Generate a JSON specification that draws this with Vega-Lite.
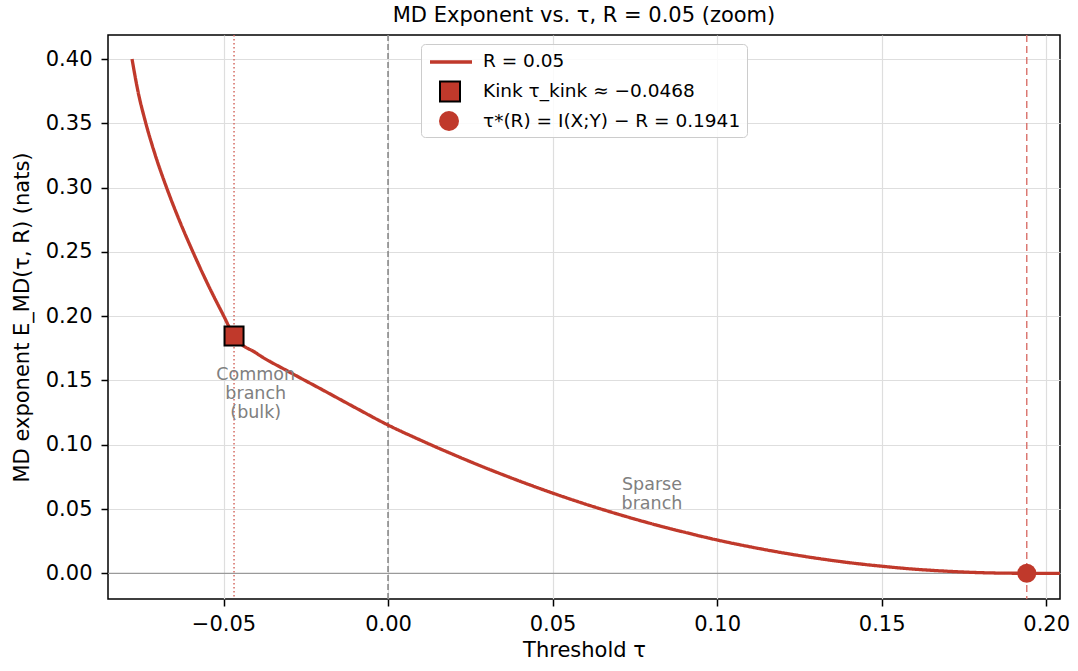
{
  "$schema": "https://vega.github.io/schema/vega-lite/v6.json",
  "width": 952,
  "height": 564,
  "autosize": {"type": "none"},
  "padding": {"left": 108, "top": 35, "right": 18, "bottom": 72},
  "background": "white",
  "title": {"text": "MD Exponent vs. τ, R = 0.05 (zoom)", "font": "DejaVu Sans", "fontSize": 21, "fontWeight": "normal", "color": "black", "offset": 8},
  "config": {
    "view": {"stroke": "black", "strokeWidth": 1.5},
    "axis": {
      "domain": false, "tickColor": "black", "tickWidth": 1.5, "tickSize": 7,
      "labelFont": "DejaVu Sans", "labelFontSize": 21, "labelColor": "black",
      "titleFont": "DejaVu Sans", "titleFontSize": 21, "titleFontWeight": "normal", "titleColor": "black",
      "gridColor": "#dedede", "gridWidth": 1.2
    },
    "legend": {
      "orient": "none", "legendX": 313, "title": null, "padding": 6,
      "labelFont": "DejaVu Sans", "labelFontSize": 18.5, "labelColor": "black", "labelLimit": 500,
      "symbolSize": 400, "symbolOffset": 12, "labelOffset": 22, "rowPadding": 9
    }
  },
  "datasets": {
    "curve": [
      {"tau": -0.0778, "E": 0.400},
      {"tau": -0.0760, "E": 0.375},
      {"tau": -0.0736, "E": 0.350},
      {"tau": -0.0707, "E": 0.325},
      {"tau": -0.0673, "E": 0.300},
      {"tau": -0.0635, "E": 0.275},
      {"tau": -0.0593, "E": 0.250},
      {"tau": -0.0548, "E": 0.225},
      {"tau": -0.0499, "E": 0.200},
      {"tau": -0.0468, "E": 0.1845},
      {"tau": -0.04, "E": 0.1712},
      {"tau": -0.03, "E": 0.1566},
      {"tau": -0.02, "E": 0.1428},
      {"tau": -0.01, "E": 0.1289},
      {"tau": 0.0, "E": 0.1153},
      {"tau": 0.01, "E": 0.1034},
      {"tau": 0.02, "E": 0.0922},
      {"tau": 0.03, "E": 0.0816},
      {"tau": 0.04, "E": 0.0717},
      {"tau": 0.05, "E": 0.0624},
      {"tau": 0.06, "E": 0.0538},
      {"tau": 0.07, "E": 0.0459},
      {"tau": 0.08, "E": 0.0386},
      {"tau": 0.09, "E": 0.0320},
      {"tau": 0.10, "E": 0.0259},
      {"tau": 0.11, "E": 0.0206},
      {"tau": 0.12, "E": 0.0159},
      {"tau": 0.13, "E": 0.0118},
      {"tau": 0.14, "E": 0.0083},
      {"tau": 0.15, "E": 0.0055},
      {"tau": 0.16, "E": 0.0032},
      {"tau": 0.17, "E": 0.0016},
      {"tau": 0.18, "E": 0.0005},
      {"tau": 0.19, "E": 0.00004},
      {"tau": 0.1941, "E": 0.0},
      {"tau": 0.2042, "E": 0.0}
    ],
    "kink": [{"tau": -0.0468, "E": 0.1845}],
    "star": [{"tau": 0.1941, "E": 0.0}],
    "notes": [
      {"tau": -0.0402, "E": 0.1613, "label": "Common\nbranch\n(bulk)"},
      {"tau": 0.0802, "E": 0.0757, "label": "Sparse\nbranch"}
    ]
  },
  "layer": [
    {
      "data": {"values": [{"E": 0}]},
      "mark": {"type": "rule", "color": "#9a9a9a", "strokeWidth": 1.2},
      "encoding": {
        "y": {"field": "E", "type": "quantitative",
          "scale": {"domain": [-0.02, 0.4187], "nice": false, "zero": false},
          "axis": {"values": [0, 0.05, 0.1, 0.15, 0.2, 0.25, 0.3, 0.35, 0.4], "format": ".2f", "title": "MD exponent E_MD(τ, R) (nats)", "labelPadding": 9, "titlePadding": 13}}
      }
    },
    {
      "data": {"values": [{"tau": 0}]},
      "mark": {"type": "rule", "color": "#888888", "strokeWidth": 1.6, "strokeDash": [6, 3]},
      "encoding": {
        "x": {"field": "tau", "type": "quantitative",
          "scale": {"domain": [-0.0851, 0.2042], "nice": false, "zero": false},
          "axis": {"values": [-0.05, 0, 0.05, 0.1, 0.15, 0.2], "format": ".2f", "title": "Threshold τ", "labelPadding": 7, "titlePadding": 5}}
      }
    },
    {
      "data": {"values": [{"tau": -0.0468}]},
      "mark": {"type": "rule", "color": "#d46a62", "strokeWidth": 1.5, "strokeDash": [1.5, 2.5]},
      "encoding": {"x": {"field": "tau", "type": "quantitative", "scale": {"domain": [-0.0851, 0.2042], "nice": false, "zero": false}}}
    },
    {
      "data": {"values": [{"tau": 0.1941}]},
      "mark": {"type": "rule", "color": "#d9706a", "strokeWidth": 1.4, "strokeDash": [7, 4]},
      "encoding": {"x": {"field": "tau", "type": "quantitative", "scale": {"domain": [-0.0851, 0.2042], "nice": false, "zero": false}}}
    },
    {
      "data": {"name": "curve"},
      "mark": {"type": "line", "strokeWidth": 3.3, "interpolate": "monotone", "clip": true},
      "encoding": {
        "x": {"field": "tau", "type": "quantitative", "scale": {"domain": [-0.0851, 0.2042], "nice": false, "zero": false}},
        "y": {"field": "E", "type": "quantitative", "scale": {"domain": [-0.02, 0.4187], "nice": false, "zero": false}},
        "color": {"datum": "R = 0.05", "type": "nominal",
          "scale": {"domain": ["R = 0.05", "Kink τ_kink ≈ −0.0468", "τ*(R) = I(X;Y) − R = 0.1941"], "range": ["#c0392b", "#c0392b", "#c0392b"]},
          "legend": {"legendY": 9, "symbolOpacity": 0, "fillColor": "rgba(255,255,255,0.85)", "strokeColor": "#cccccc", "cornerRadius": 4, "zindex": 0}},
        "strokeDash": {"datum": "R = 0.05", "type": "nominal",
          "scale": {"domain": ["R = 0.05"], "range": [[1, 0]]},
          "legend": {"legendY": 9, "labelOpacity": 0, "symbolType": "M-2.1,0H2.1", "symbolStrokeColor": "#c0392b", "symbolStrokeWidth": 3.5, "symbolOpacity": 1, "zindex": 1}}
      }
    },
    {
      "data": {"name": "kink"},
      "mark": {"type": "point", "shape": "square", "filled": true, "color": "#c0392b", "size": 361, "strokeWidth": 2, "opacity": 1},
      "encoding": {
        "x": {"field": "tau", "type": "quantitative", "scale": {"domain": [-0.0851, 0.2042], "nice": false, "zero": false}},
        "y": {"field": "E", "type": "quantitative", "scale": {"domain": [-0.02, 0.4187], "nice": false, "zero": false}},
        "stroke": {"datum": "Kink τ_kink ≈ −0.0468", "type": "nominal",
          "scale": {"domain": ["Kink τ_kink ≈ −0.0468"], "range": ["black"]},
          "legend": {"legendY": 39.5, "labelOpacity": 0, "symbolType": "square", "symbolFillColor": "#c0392b", "symbolStrokeWidth": 2, "symbolOpacity": 1, "zindex": 1}}
      }
    },
    {
      "data": {"name": "star"},
      "mark": {"type": "point", "shape": "circle", "filled": true, "size": 361, "strokeWidth": 0, "opacity": 1},
      "encoding": {
        "x": {"field": "tau", "type": "quantitative", "scale": {"domain": [-0.0851, 0.2042], "nice": false, "zero": false}},
        "y": {"field": "E", "type": "quantitative", "scale": {"domain": [-0.02, 0.4187], "nice": false, "zero": false}},
        "fill": {"datum": "τ*(R) = I(X;Y) − R = 0.1941", "type": "nominal",
          "scale": {"domain": ["τ*(R) = I(X;Y) − R = 0.1941"], "range": ["#c0392b"]},
          "legend": {"legendY": 70, "labelOpacity": 0, "symbolType": "circle", "symbolStrokeWidth": 0, "symbolOpacity": 1, "zindex": 1}}
      }
    },
    {
      "data": {"name": "notes"},
      "mark": {"type": "text", "font": "DejaVu Sans", "fontSize": 17.5, "color": "#808080", "align": "center", "baseline": "top", "lineBreak": "\n", "lineHeight": 19},
      "encoding": {
        "x": {"field": "tau", "type": "quantitative", "scale": {"domain": [-0.0851, 0.2042], "nice": false, "zero": false}},
        "y": {"field": "E", "type": "quantitative", "scale": {"domain": [-0.02, 0.4187], "nice": false, "zero": false}},
        "text": {"field": "label"}
      }
    }
  ]
}
